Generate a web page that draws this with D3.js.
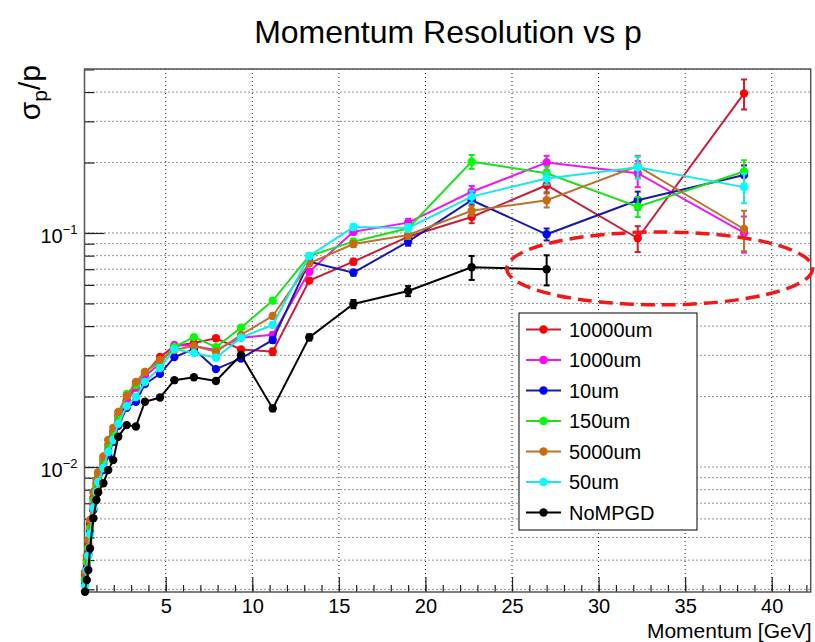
<!DOCTYPE html>
<html>
<head>
<meta charset="utf-8">
<script src="https://cdn.jsdelivr.net/npm/d3@7"></script>
<style>
  body { margin: 0; background: #fff; }
  svg { font-family: "Liberation Sans", Arial, Helvetica, sans-serif; }
  .grid line { stroke: #222; stroke-width: 1; stroke-dasharray: 1, 3; }
  .tick-axis path { display: none; }
  .tick-axis line { stroke: #222; stroke-width: 1.2; }
  .tick-axis text { font-size: 20px; fill: #000; }
</style>
</head>
<body>
<div id="chart-container"></div>
<script>
/* Momentum resolution vs p, one graph per MPGD resolution setting */

const momentum = [0.34, 0.44, 0.53, 0.63, 0.82, 1.0, 1.1, 1.4, 1.68, 1.97, 2.26, 2.75, 3.28, 3.8,
  4.67, 5.5, 6.63, 7.9, 9.35, 11.18, 13.29, 15.84, 19.0, 22.67, 27.0, 32.26, 38.4];

const res10000um = [0.00346, 0.0040, 0.00469, 0.00571, 0.00737, 0.00846, 0.00934, 0.0107, 0.0124, 0.0141,
  0.0165, 0.0193, 0.0222, 0.025, 0.0295, 0.0329, 0.0339, 0.0355, 0.0318, 0.0311, 0.0626, 0.0754, 0.0964,
  0.117, 0.160, 0.0949, 0.395];
const res1000um = [0.00335, 0.00385, 0.00442, 0.00538, 0.00695, 0.00813, 0.00897, 0.0103, 0.0118, 0.0136,
  0.0159, 0.019, 0.0218, 0.0245, 0.0276, 0.0332, 0.0329, 0.0316, 0.0357, 0.0367, 0.0683, 0.1013, 0.1107,
  0.150, 0.200, 0.180, 0.100];
const res10um = [0.00316, 0.0037, 0.00425, 0.00527, 0.00655, 0.00767, 0.00846, 0.0097, 0.01125, 0.0128,
  0.015, 0.0179, 0.019, 0.0226, 0.025, 0.0295, 0.0319, 0.0262, 0.0291, 0.0349, 0.0754, 0.0677, 0.0918,
  0.138, 0.0987, 0.138, 0.177];
const res150um = [0.00329, 0.00393, 0.00451, 0.00549, 0.00723, 0.0083, 0.00915, 0.0105, 0.0123, 0.0138,
  0.0162, 0.0205, 0.0224, 0.0255, 0.0281, 0.0326, 0.0359, 0.0325, 0.0394, 0.0514, 0.0798, 0.0918, 0.1047,
  0.2017, 0.180, 0.1296, 0.183];
const res5000um = [0.00356, 0.00417, 0.00488, 0.00594, 0.00782, 0.0088, 0.0095, 0.0111, 0.01305, 0.0147,
  0.0172, 0.0201, 0.0231, 0.0255, 0.0287, 0.0316, 0.0329, 0.0311, 0.0367, 0.0442, 0.0742, 0.0897, 0.098,
  0.1245, 0.138, 0.193, 0.104];
const res50um = [0.0031, 0.00363, 0.00417, 0.00517, 0.00668, 0.00782, 0.00863, 0.0099, 0.0116, 0.01305,
  0.0153, 0.0182, 0.0199, 0.0231, 0.0265, 0.0319, 0.0307, 0.0293, 0.0357, 0.0405, 0.0798, 0.106, 0.105,
  0.143, 0.171, 0.191, 0.157];
const resNoMPGD = [0.00293, 0.00329, 0.00363, 0.00449, 0.00604, 0.00723, 0.0078, 0.00852, 0.0097, 0.0107,
  0.01347, 0.0151, 0.0149, 0.019, 0.0198, 0.0235, 0.0242, 0.0233, 0.0301, 0.0178, 0.0358, 0.0497, 0.0565,
  0.0714, 0.070];

// error bars (only visible ones at high p, the rest hide under the markers)
const err10000um = [0, 0, 0, 0, 0, 0, 0, 0, 0, 0, 0, 0, 0, 0, 0, 0, 0, 0, 0,
  0.001, 0.0015, 0.0022, 0.0038, 0.0069, 0.011, 0.012, 0.058];
const err1000um = [0, 0, 0, 0, 0, 0, 0, 0, 0, 0, 0, 0, 0, 0, 0, 0, 0, 0, 0,
  0.001, 0.0018, 0.003, 0.0043, 0.0088, 0.0137, 0.023, 0.0176];
const err10um = [0, 0, 0, 0, 0, 0, 0, 0, 0, 0, 0, 0, 0, 0, 0, 0, 0, 0, 0,
  0.001, 0.0019, 0.002, 0.0036, 0.0068, 0.0058, 0.0122, 0.0174];
const err150um = [0, 0, 0, 0, 0, 0, 0, 0, 0, 0, 0, 0, 0, 0, 0, 0, 0, 0, 0,
  0.0013, 0.002, 0.0027, 0.0041, 0.0138, 0.0123, 0.0127, 0.0215];
const err5000um = [0, 0, 0, 0, 0, 0, 0, 0, 0, 0, 0, 0, 0, 0, 0, 0, 0, 0, 0,
  0.0011, 0.0019, 0.0026, 0.0038, 0.0061, 0.0095, 0.0208, 0.0204];
const err50um = [0, 0, 0, 0, 0, 0, 0, 0, 0, 0, 0, 0, 0, 0, 0, 0, 0, 0, 0,
  0.001, 0.002, 0.0031, 0.0041, 0.0084, 0.010, 0.0206, 0.023];
const errNoMPGD = [0, 0, 0, 0, 0, 0, 0, 0, 0, 0, 0, 0, 0, 0, 0, 0, 0, 0, 0,
  0.0005, 0.0011, 0.002, 0.0028, 0.0084, 0.0103];

const seriesNames = ["10000um", "1000um", "10um", "150um", "5000um", "50um", "NoMPGD"];
const xTickLabels = [5, 10, 15, 20, 25, 30, 35, 40];
const yDecades = [0.01, 0.1];
const yDecadeExp = ["\u22122", "\u22121"];

// dashed annotation ring: momentum range and resolution range it covers
const ringMomentum = [24.7, 42.36];
const ringRes = [0.0493, 0.101];

function create_chart() {
  let width = 815,
    height = 642,
    margin = { top: 69, right: 4.3, bottom: 50, left: 84.5 };

  const svg = d3
    .select("#chart-container")
    .append("svg")
    .attr("width", width)
    .attr("height", height);

  let x = d3
    .scaleLinear()
    .domain([0.31, 42.25])
    .range([margin.left, width - margin.right]);

  let y = d3
    .scaleLog()
    .domain([0.002923, 0.502])
    .range([height - margin.bottom, margin.top]);

  let lineColor = d3
    .scaleOrdinal()
    .domain(seriesNames)
    .range(["#c81e3c", "#f018f0", "#1a1aa8", "#1ee01e", "#b8742e", "#18e8e8", "#000000"]);

  let markColor = d3
    .scaleOrdinal()
    .domain(seriesNames)
    .range(["#ff0000", "#ff00ff", "#0000ff", "#00ff00", "#cc6a10", "#00ffff", "#000000"]);

  const values = [res10000um, res1000um, res10um, res150um, res5000um, res50um, resNoMPGD];
  const errors = [err10000um, err1000um, err10um, err150um, err5000um, err50um, errNoMPGD];
  const series = seriesNames.map((name, i) => ({
    name: name,
    points: values[i].map((v, j) => ({ p: momentum[j], v: v, e: errors[i][j] })),
  }));

  // grid
  const grid = svg.append("g").attr("class", "grid");
  grid
    .selectAll(".vgrid")
    .data(xTickLabels)
    .join("line")
    .attr("x1", (d) => x(d))
    .attr("x2", (d) => x(d))
    .attr("y1", margin.top)
    .attr("y2", height - margin.bottom);
  grid
    .selectAll(".hgrid")
    .data(y.ticks())
    .join("line")
    .attr("x1", margin.left)
    .attr("x2", width - margin.right)
    .attr("y1", (d) => y(d))
    .attr("y2", (d) => y(d));

  // x axis ticks (pointing inward)
  svg
    .append("g")
    .attr("class", "tick-axis")
    .attr("transform", `translate(0,${height - margin.bottom})`)
    .call(d3.axisBottom(x).tickValues(d3.range(1, 43)).tickSize(-7).tickFormat(""));
  svg
    .append("g")
    .attr("class", "tick-axis")
    .attr("transform", `translate(0,${height - margin.bottom})`)
    .call(d3.axisBottom(x).tickValues(xTickLabels).tickSize(-15).tickPadding(7));

  // y axis ticks
  svg
    .append("g")
    .attr("class", "tick-axis")
    .attr("transform", `translate(${margin.left},0)`)
    .call(d3.axisLeft(y).tickValues(y.ticks()).tickSize(-10).tickFormat(""));
  svg
    .append("g")
    .attr("class", "tick-axis")
    .attr("transform", `translate(${margin.left},0)`)
    .call(d3.axisLeft(y).tickValues(yDecades).tickSize(-20).tickFormat(""));

  const ylab = svg
    .selectAll(".ylab")
    .data(yDecades)
    .join("text")
    .attr("class", "ylab")
    .attr("x", margin.left - 7)
    .attr("y", (d) => y(d) + 10)
    .attr("text-anchor", "end")
    .style("font-size", "20px");
  ylab.append("tspan").text("10");
  ylab
    .append("tspan")
    .attr("dy", -9)
    .style("font-size", "13px")
    .text((d, i) => yDecadeExp[i]);

  // frame
  svg
    .append("rect")
    .attr("x", margin.left)
    .attr("y", margin.top)
    .attr("width", width - margin.left - margin.right)
    .attr("height", height - margin.top - margin.bottom)
    .attr("fill", "none")
    .attr("stroke", "#555")
    .attr("stroke-width", 1.5);

  // graphs
  const line = d3
    .line()
    .x((d) => x(d.p))
    .y((d) => y(d.v));

  series.forEach((s) => {
    const g = svg.append("g");
    g.append("path")
      .datum(s.points)
      .attr("d", line)
      .attr("fill", "none")
      .attr("stroke", lineColor(s.name))
      .attr("stroke-width", 2);

    const eb = s.points.filter((d) => d.e > 0);
    g.selectAll(".err")
      .data(eb)
      .join("line")
      .attr("x1", (d) => x(d.p))
      .attr("x2", (d) => x(d.p))
      .attr("y1", (d) => y(d.v - d.e))
      .attr("y2", (d) => y(d.v + d.e))
      .attr("stroke", lineColor(s.name))
      .attr("stroke-width", 2);
    g.selectAll(".capTop")
      .data(eb)
      .join("line")
      .attr("x1", (d) => x(d.p) - 3)
      .attr("x2", (d) => x(d.p) + 3)
      .attr("y1", (d) => y(d.v + d.e))
      .attr("y2", (d) => y(d.v + d.e))
      .attr("stroke", lineColor(s.name))
      .attr("stroke-width", 2);
    g.selectAll(".capBot")
      .data(eb)
      .join("line")
      .attr("x1", (d) => x(d.p) - 3)
      .attr("x2", (d) => x(d.p) + 3)
      .attr("y1", (d) => y(d.v - d.e))
      .attr("y2", (d) => y(d.v - d.e))
      .attr("stroke", lineColor(s.name))
      .attr("stroke-width", 2);

    g.selectAll("circle")
      .data(s.points)
      .join("circle")
      .attr("cx", (d) => x(d.p))
      .attr("cy", (d) => y(d.v))
      .attr("r", 4.2)
      .attr("fill", markColor(s.name));
  });

  // legend
  let lx = 519,
    ly = 313;
  svg
    .append("rect")
    .attr("x", lx)
    .attr("y", ly)
    .attr("width", 178)
    .attr("height", 217)
    .attr("fill", "#fff")
    .attr("stroke", "#000")
    .attr("stroke-width", 1);
  const items = svg
    .selectAll(".legend-item")
    .data(seriesNames)
    .join("g")
    .attr("class", "legend-item")
    .attr("transform", (d, i) => `translate(${lx},${ly + 16.5 + i * 30.5})`);
  items
    .append("line")
    .attr("x1", 7)
    .attr("x2", 42)
    .attr("stroke", (d) => lineColor(d))
    .attr("stroke-width", 2);
  items
    .append("circle")
    .attr("cx", 24.5)
    .attr("r", 4.2)
    .attr("fill", (d) => markColor(d));
  items
    .append("text")
    .attr("x", 50)
    .attr("dy", "0.36em")
    .style("font-size", "20px")
    .text((d) => d);

  // dashed ring annotation
  svg
    .append("ellipse")
    .attr("cx", (x(ringMomentum[0]) + x(ringMomentum[1])) / 2)
    .attr("cy", (y(ringRes[0]) + y(ringRes[1])) / 2)
    .attr("rx", (x(ringMomentum[1]) - x(ringMomentum[0])) / 2)
    .attr("ry", (y(ringRes[0]) - y(ringRes[1])) / 2)
    .attr("fill", "none")
    .attr("stroke", "#f01818")
    .attr("stroke-width", 3.5)
    .attr("stroke-dasharray", "14,7");

  // titles
  svg
    .append("text")
    .attr("x", 448)
    .attr("y", 43)
    .attr("text-anchor", "middle")
    .style("font-size", "32px")
    .text("Momentum Resolution vs p");

  svg
    .append("text")
    .attr("x", width - 3.5)
    .attr("y", 638)
    .attr("text-anchor", "end")
    .style("font-size", "21px")
    .text("Momentum [GeV]");

  const yt = svg
    .append("text")
    .attr("transform", "translate(40,65) rotate(-90)")
    .attr("text-anchor", "end")
    .style("font-size", "30px");
  yt.append("tspan").text("\u03c3");
  yt.append("tspan").attr("dy", 7).style("font-size", "21px").text("p");
  yt.append("tspan").attr("dy", -7).text("/p");
}

create_chart();
</script>
</body>
</html>
